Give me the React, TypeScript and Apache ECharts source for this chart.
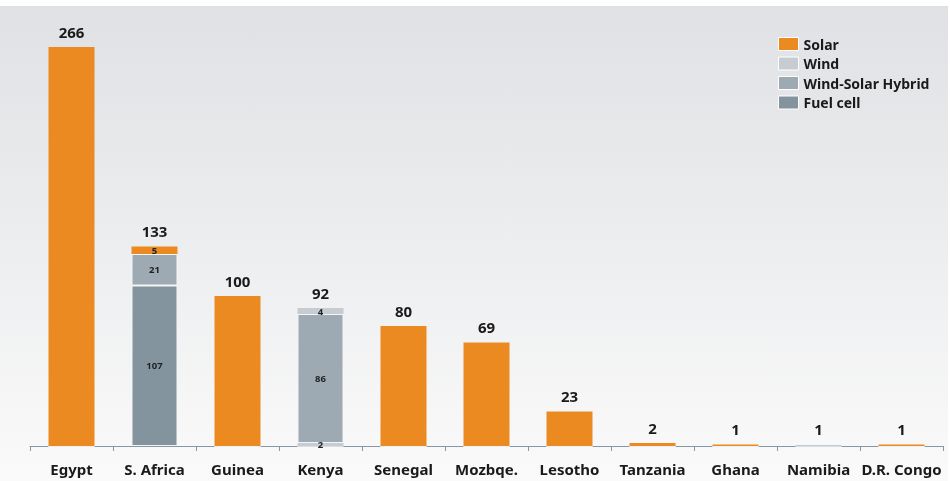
import React, { useEffect, useRef } from "react";
import * as echarts from "echarts";

const categories = ["Egypt", "S. Africa", "Guinea", "Kenya", "Senegal", "Mozbqe.", "Lesotho", "Tanzania", "Ghana", "Namibia", "D.R. Congo"];
const fuelCell = [0, 107, 0, 0, 0, 0, 0, 0, 0, 0, 0];
const windLow = [0, 0, 0, 2, 0, 0, 0, 0, 0, 1, 0];
const hybrid = [0, 21, 0, 86, 0, 0, 0, 0, 0, 0, 0];
const windHigh = [0, 0, 0, 4, 0, 0, 0, 0, 0, 0, 0];
const solar = [266, 5, 100, 0, 80, 69, 23, 2, 1, 0, 1];
const legendNames = ["Solar", "Wind", "Wind-Solar Hybrid", "Fuel cell"];

const COLORS = {
  solar: "#ec8a22",
  wind: "#c6ccd2",
  hybrid: "#9eaab3",
  fuel: "#84949f",
};

const FONT = "'Noto Sans', sans-serif";

export default function App() {
  const ref = useRef<HTMLDivElement>(null);
  useEffect(() => {
    if (!ref.current) return;
    const chart = echarts.init(ref.current, null, { renderer: "svg" });
    const totals = categories.map((_, i) => fuelCell[i] + windLow[i] + hybrid[i] + windHigh[i] + solar[i]);
    const segLabel = {
      show: true,
      position: "inside" as const,
      fontSize: 9.5,
      fontWeight: "bold" as const,
      color: "#222",
      fontFamily: FONT,
      formatter: (p: any) => (p.value > 1 && p.dataIndex !== 0 && p.seriesName !== "Solar" ? String(p.value) : ""),
    };
    const option: any = {
      animation: false,
      textStyle: { fontFamily: FONT },
      graphic: [
        {
          type: "rect",
          z: -10,
          silent: true,
          shape: { x: 0, y: 6, width: 948, height: 475 },
          style: {
            fill: new echarts.graphic.LinearGradient(0, 0, 0, 1, [
              { offset: 0, color: "#dfe1e4" },
              { offset: 1, color: "#fafafa" },
            ]),
          },
        },
      ],
      legend: {
        data: legendNames,
        orient: "vertical",
        left: 773,
        top: 32,
        itemWidth: 20,
        itemHeight: 13,
        itemGap: 5.5,
        icon: "rect",
        textStyle: { fontSize: 14, fontWeight: "bold", color: "#1a1a1a", fontFamily: FONT },
        itemStyle: { borderColor: "#fff", borderWidth: 1 },
      },
      grid: { left: 30, right: 7, top: 26, bottom: 35, containLabel: false },
      xAxis: {
        type: "category",
        data: categories,
        axisLine: { lineStyle: { color: "#8797a5", width: 1 } },
        axisTick: { show: true, length: 5, lineStyle: { color: "#8797a5" } },
        axisLabel: { fontSize: 15, fontWeight: "bold", color: "#1a1a1a", margin: 15, fontFamily: FONT, interval: 0 },
      },
      yAxis: { type: "value", min: 0, max: 280, show: false, splitLine: { show: false } },
      series: [
        {
          name: "Fuel cell", type: "bar", stack: "a", barWidth: 46, data: fuelCell,
          itemStyle: { color: COLORS.fuel, borderColor: "#f4f5f6", borderWidth: 1 }, label: segLabel,
        },
        {
          name: "Wind", type: "bar", stack: "a", barWidth: 46, data: windLow,
          itemStyle: { color: COLORS.wind }, label: { ...segLabel, position: "inside" },
        },
        {
          name: "Wind-Solar Hybrid", type: "bar", stack: "a", barWidth: 46, data: hybrid,
          itemStyle: { color: COLORS.hybrid, borderColor: "#f4f5f6", borderWidth: 1 }, label: segLabel,
        },
        {
          name: "Wind", type: "bar", stack: "a", barWidth: 46, data: windHigh,
          itemStyle: { color: COLORS.wind }, label: segLabel,
        },
        {
          name: "Solar", type: "bar", stack: "a", barWidth: 46, data: solar,
          itemStyle: { color: COLORS.solar },
          label: {
            ...segLabel,
            formatter: (p: any) => (p.dataIndex === 1 ? String(p.value) : ""),
          },
        },
        {
          name: "Total", type: "bar", barWidth: 46, barGap: "-100%", data: totals,
          itemStyle: { color: "transparent" }, silent: true, z: 1,
          label: {
            show: true, position: "top", distance: 8, fontSize: 15, fontWeight: "bold",
            color: "#1a1a1a", fontFamily: FONT,
          },
        },
      ],
    };
    chart.setOption(option);
    return () => chart.dispose();
  }, []);
  return <div ref={ref} style={{ position: "fixed", left: 0, top: 0, width: 950, height: 481 }} />;
}
